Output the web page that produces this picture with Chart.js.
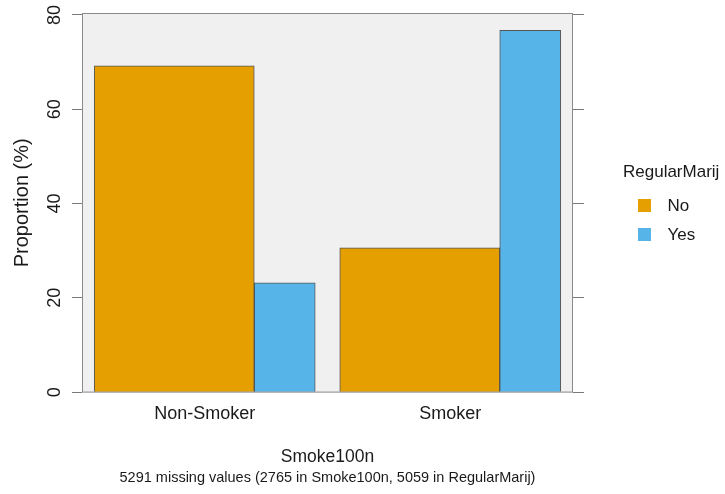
<!DOCTYPE html>
<html>
<head>
<meta charset="utf-8">
<script src="https://cdn.jsdelivr.net/npm/chart.js@4.4.1/dist/chart.umd.min.js"></script>
<style>
  html, body { margin: 0; padding: 0; background: #fff; }
  #wrap { width: 725px; height: 494px; }
</style>
</head>
<body>
<div id="wrap"><canvas id="chart"></canvas></div>
<script>
const categories = ['Non-Smoker', 'Smoker'];
const seriesNames = ['No', 'Yes'];
const noValues = [69.2, 30.6];
const yesValues = [23.2, 76.7];
const yTicks = [0, 20, 40, 60, 80];

// group layout: share of the group width each series takes
const groupWidth = 0.9;
const noShare = 0.724;
const noOffset = -groupWidth / 2 + groupWidth * noShare / 2;
const yesOffset = -groupWidth / 2 + groupWidth * noShare + groupWidth * (1 - noShare) / 2;

const font = 'Liberation Sans, Arial, sans-serif';

const panelBox = {
    id: 'panelBox',
    beforeDatasetsDraw(chart) {
        const { ctx, chartArea: a } = chart;
        ctx.save();
        ctx.fillStyle = '#f0f0f0';
        ctx.fillRect(a.left, a.top, a.right - a.left, a.bottom - a.top);
        ctx.restore();
    },
    afterDatasetsDraw(chart) {
        const { ctx, chartArea: a } = chart;
        ctx.save();
        ctx.strokeStyle = '#8a8a8a';
        ctx.lineWidth = 1;
        ctx.strokeRect(a.left + 0.5, a.top + 0.5, a.right - a.left - 1, a.bottom - a.top - 1);
        ctx.restore();
    }
};

// legend is clipped to its box, so make it wide enough for the title
const legendWidth = {
    id: 'legendWidth',
    beforeLayout(chart) {
        const lg = chart.legend;
        if (lg && !lg._fitPatched) {
            const fit = lg.fit.bind(lg);
            lg.fit = function () { fit(); this.width = 102; };
            lg._fitPatched = true;
        }
    }
};

function swatch(color) {
    const c = document.createElement('canvas');
    c.width = 18;
    c.height = 13;
    const g = c.getContext('2d');
    g.fillStyle = color;
    g.fillRect(0, 0, 13, 13);
    return c;
}

document.addEventListener('DOMContentLoaded', () => {
    const ctx = document.getElementById('chart').getContext('2d');
    new Chart(ctx, {
        type: 'bar',
        data: {
            datasets: [{
                label: seriesNames[0],
                data: noValues.map((v, i) => ({ x: i + noOffset, y: v })),
                backgroundColor: '#E69F00',
                borderColor: 'rgba(60,60,60,0.85)',
                borderWidth: 1,
                barThickness: 160,
                grouped: false
            }, {
                label: seriesNames[1],
                data: yesValues.map((v, i) => ({ x: i + yesOffset, y: v })),
                backgroundColor: '#56B4E9',
                borderColor: 'rgba(60,60,60,0.85)',
                borderWidth: 1,
                barThickness: 61,
                grouped: false
            }]
        },
        options: {
            responsive: true,
            maintainAspectRatio: false,
            animation: false,
            layout: { padding: { left: 0, right: 0, top: 13, bottom: 7 } },
            scales: {
                x: {
                    type: 'linear',
                    min: -0.5,
                    max: 1.5,
                    offset: false,
                    afterBuildTicks: s => { s.ticks = categories.map((c, i) => ({ value: i })); },
                    afterFit: s => { s.height = 77; },
                    grid: { display: false, drawTicks: false },
                    border: { display: false },
                    ticks: {
                        callback: v => categories[v],
                        color: '#1a1a1a',
                        padding: 11,
                        maxRotation: 0,
                        font: { family: font, size: 18 }
                    },
                    title: {
                        display: true,
                        text: 'Smoke100n',
                        color: '#1a1a1a',
                        padding: { top: 0, bottom: 2 },
                        font: { family: font, size: 17.5 }
                    }
                },
                y: {
                    position: 'left',
                    min: -0.1,
                    max: 80.4,
                    afterBuildTicks: s => { s.ticks = yTicks.map(v => ({ value: v })); },
                    afterFit: s => { s.width = 82; },
                    grid: { drawOnChartArea: false, drawTicks: true, tickLength: 10, color: '#7a7a7a' },
                    border: { display: false },
                    ticks: {
                        minRotation: 90,
                        maxRotation: 90,
                        crossAlign: 'center',
                        padding: 7,
                        color: '#1a1a1a',
                        font: { family: font, size: 18, lineHeight: 0.6 }
                    },
                    title: {
                        display: true,
                        text: 'Proportion (%)',
                        color: '#1a1a1a',
                        padding: { top: 10.5, bottom: 0 },
                        font: { family: font, size: 20 }
                    }
                },
                y2: {
                    position: 'right',
                    min: -0.1,
                    max: 80.4,
                    afterBuildTicks: s => { s.ticks = yTicks.map(v => ({ value: v })); },
                    afterFit: s => { s.width = 50; },
                    grid: { drawOnChartArea: false, drawTicks: true, tickLength: 11, color: '#7a7a7a' },
                    border: { display: false },
                    ticks: { display: false }
                }
            },
            plugins: {
                legend: {
                    position: 'right',
                    align: 'start',
                    title: {
                        display: true,
                        position: 'start',
                        text: 'RegularMarij',
                        color: '#1a1a1a',
                        padding: { top: 150.5, bottom: 1.5 },
                        font: { family: font, size: 17 }
                    },
                    labels: {
                        usePointStyle: true,
                        pointStyleWidth: 24,
                        padding: 12,
                        color: '#1a1a1a',
                        font: { family: font, size: 17 },
                        generateLabels: chart => Chart.defaults.plugins.legend.labels.generateLabels(chart)
                            .map(l => Object.assign(l, { pointStyle: swatch(l.fillStyle), lineWidth: 0 }))
                    }
                },
                subtitle: {
                    display: true,
                    position: 'bottom',
                    fullSize: false,
                    text: '5291 missing values (2765 in Smoke100n, 5059 in RegularMarij)',
                    color: '#1a1a1a',
                    padding: 0,
                    font: { family: font, size: 14.5 }
                },
                tooltip: { enabled: false }
            }
        },
        plugins: [panelBox, legendWidth]
    });
});
</script>
</body>
</html>
